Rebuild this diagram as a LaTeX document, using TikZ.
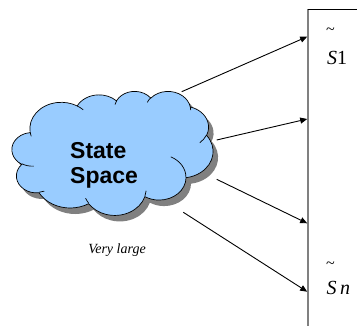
\documentclass[tikz,border=0pt]{standalone}
\usepackage{fontspec}
\setmainfont{Liberation Serif}
\setsansfont{Liberation Sans}
\usetikzlibrary{arrows.meta}

% Elliptic arc continuing from the current point; radii in path units,
% start and sweep given as visual angles (converted to parametric ones).
\newcommand\cloudarc[4]{arc[x radius=#1, y radius=#2,
  start angle={atan2(#1*sin(#3),#2*cos(#3))},
  delta angle={mod(atan2(#1*sin(#3+#4),#2*cos(#3+#4))-atan2(#1*sin(#3),#2*cos(#3))+720,360)}]}

% Outline of the cloud in a 43.2 x 43.2 frame (y pointing down)
\newcommand\cloudoutline{(3.900,14.370)
  \cloudarc{6.753}{9.190}{-190.4875}{123.7805}
  \cloudarc{5.333}{7.267}{-144.1024}{89.9452}
  \cloudarc{4.365}{5.945}{-145.8079}{99.7230}
  \cloudarc{4.857}{6.595}{-130.9861}{117.2417}
  \cloudarc{5.333}{7.273}{-78.7089}{109.0269}
  \cloudarc{6.775}{9.220}{-46.2673}{130.2690}
  \cloudarc{5.785}{7.867}{0.6250}{114.0333}
  \cloudarc{6.752}{9.215}{22.4516}{115.1726}
  \cloudarc{7.720}{10.543}{66.2426}{75.7110}
  \cloudarc{4.360}{5.918}{-274.9421}{146.7356}
  \cloudarc{4.345}{5.945}{-246.8285}{152.5189} -- cycle}

% Inner folds of the cloud
\newcommand\cloudfolds{
  (4.693,26.177) \cloudarc{4.345}{5.945}{86.7420}{26.4295}
  (6.928,34.899) \cloudarc{4.360}{5.918}{73.6105}{11.4475}
  (16.478,39.090) \cloudarc{6.752}{9.215}{137.6242}{14.0811}
  (28.827,34.751) \cloudarc{6.752}{9.215}{6.4533}{15.9984}
  (34.129,22.954) \cloudarc{5.785}{7.867}{-70.2924}{70.9174}
  (41.798,15.354) \cloudarc{5.333}{7.273}{30.3180}{27.7515}
  (38.324,5.426) \cloudarc{4.857}{6.595}{-13.7443}{14.8589}
  (29.078,3.952) \cloudarc{4.857}{6.595}{-149.1815}{18.1954}
  (22.141,4.720) \cloudarc{4.365}{5.945}{-163.4943}{17.6864}
  (14.000,5.192) \cloudarc{6.753}{9.190}{-66.7070}{12.3194}
  (4.127,15.789) \cloudarc{6.753}{9.190}{157.6544}{11.8582}}

\definecolor{cloudblue}{RGB}{153,204,255}
\definecolor{shadowgray}{RGB}{128,128,128}

\tikzset{
  cloudframe/.style={x=4.653pt, y=-2.870pt},
  edge/.style={line width=0.9pt, -{Triangle[length=7pt,width=6pt]}},
  statelabel/.style={font=\fontsize{20}{20}\selectfont, inner sep=0pt, anchor=base west},
  tildemark/.style={font=\fontsize{16}{16}\selectfont, inner sep=0pt},
}

\begin{document}
\begin{tikzpicture}[x=1pt, y=-1pt]
\useasboundingbox (0,0) rectangle (357,326);

% shadow and cloud
\begin{scope}[shift={(17,97)}, cloudframe]
  \fill[shadowgray] \cloudoutline;
\end{scope}
\begin{scope}[shift={(12,91)}, cloudframe]
  \filldraw[fill=cloudblue, draw=black, line width=0.7pt] \cloudoutline;
  \draw[line width=0.7pt] \cloudfolds;
\end{scope}

\node[font=\sffamily\bfseries\fontsize{23}{25}\selectfont, inner sep=0pt, anchor=base west] (title1) at (70,158.3) {State};
\node[font=\sffamily\bfseries\fontsize{23}{25}\selectfont, inner sep=0pt, anchor=base west] (title2) at (70,183.3) {Space};
\node[font=\itshape\fontsize{14}{14}\selectfont, inner sep=0pt, anchor=base] (note) at (117,254) {Very large};

% the column of sampled states
\draw[shadowgray, line width=1.6pt] (308,9.5) -- (308,327);
\draw[black, line width=0.8pt] (307.5,9.5) -- (358,9.5);

\node[tildemark] (t1) at (330.5,31) {\char`\~};
\node[statelabel] (s1) at (327,65) {\textit{S}1};
\node[tildemark] (tn) at (330.5,265) {\char`\~};
\node[statelabel] (sn) at (326.5,295) {\textit{S\,n}};

% sampling arrows
\coordinate (o1) at (181.7,91.7);
\coordinate (o2) at (216.7,140);
\coordinate (o3) at (216.7,179.3);
\coordinate (o4) at (183.3,212.3);
\coordinate (e1) at (307.2,36.7);
\coordinate (e2) at (307.2,119);
\coordinate (e3) at (307.2,223.3);
\coordinate (e4) at (307.2,291.7);
\draw[edge] (o1) -- (e1);
\draw[edge] (o2) -- (e2);
\draw[edge] (o3) -- (e3);
\draw[edge] (o4) -- (e4);
\end{tikzpicture}
\end{document}
